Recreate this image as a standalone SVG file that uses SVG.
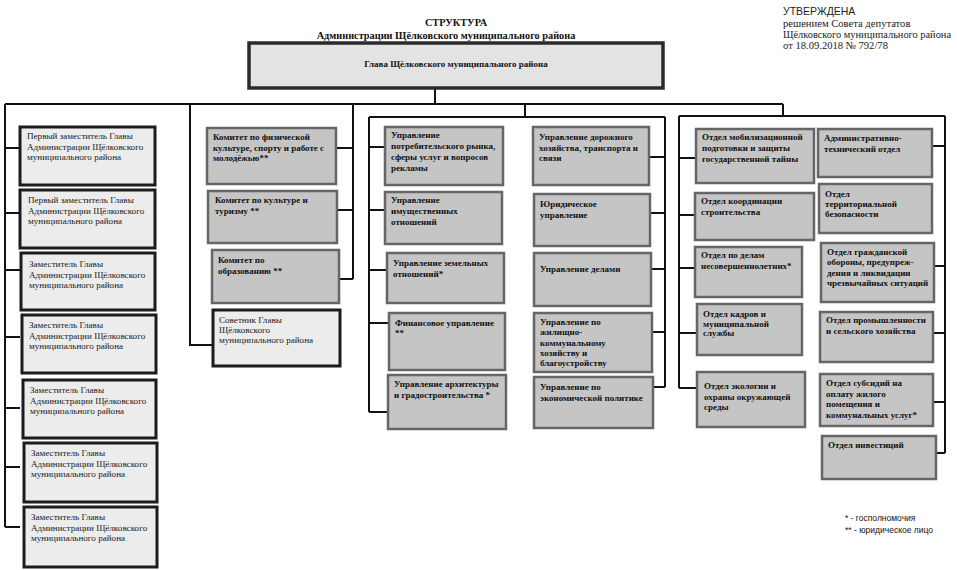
<svg xmlns="http://www.w3.org/2000/svg" width="957" height="570" viewBox="0 0 957 570">
<style>
.bg{fill:#ffffff}
.lb{fill:#ececec;stroke:#1c1c1c;stroke-width:3}
.gb{fill:#c5c5c5;stroke:#666666;stroke-width:2.5}
.mb{fill:#e3e3e3;stroke:#2a2a2a;stroke-width:3.5}
.t{font-family:"Liberation Serif","Times New Roman",serif;font-size:9.1px;fill:#1a1a1a}
.tb{font-family:"Liberation Serif","Times New Roman",serif;font-size:9px;font-weight:bold;fill:#111}
.hd{font-family:"Liberation Serif","Times New Roman",serif;font-size:10.3px;font-weight:bold;fill:#111}
.ap{font-family:"Liberation Serif","Times New Roman",serif;font-size:10.6px;fill:#222}
.ap1{font-family:"Liberation Sans",Arial,sans-serif;font-size:10.5px;fill:#222}
.lg{font-family:"Liberation Sans",Arial,sans-serif;font-size:8.5px;fill:#111}
.c{fill:none;stroke:#111;stroke-width:2}
</style>
<rect class="bg" x="0" y="0" width="957" height="570"/>

<g id="header">
<text class="hd" x="456" y="26" text-anchor="middle">СТРУКТУРА</text>
<text class="hd" x="446" y="39" text-anchor="middle">Администрации Щёлковского муниципального района</text>
</g>
<g id="approval">
<text class="ap1" x="783" y="15">УТВЕРЖДЕНА</text>
<text class="ap" x="783" y="27">решением Совета депутатов</text>
<text class="ap" x="783" y="38" textLength="168" lengthAdjust="spacingAndGlyphs">Щёлковского муниципального  района</text>
<text class="ap" x="783" y="49">от 18.09.2018 № 792/78</text>
</g>

<g id="connectors">
<path class="c" d="M435 88V104M5 104H783M5 104V527M5 148H20M5 213H20M5 270H20M5 337H20M5 408H20M5 467H20M5 527H20"/>
<path class="c" d="M190 104V345H213M353 104V279M336 148H353M337 210H353M339 279H353"/>
<path class="c" d="M525 104V117M369 117H665M369 117V412M369 147H385M369 210H385M369 270H387M369 323H389M369 412H388M665 117V387M649 157H665M650 213H665M651 269H665M652 332H665M653 387H665"/>
<path class="c" d="M783 104V116M679 116H945M679 116V388M679 158H696M679 215H695M679 268H695M679 333H697M679 388H697M945 116V453M932 146H945M934 266H945M933 333H945M933 402H945M936 453H945"/>
</g>

<g id="head">
<rect class="mb" x="249" y="43" width="414" height="45"/>
<text class="tb" x="456" y="67" text-anchor="middle">Глава Щёлковского муниципального района</text>
</g>

<g id="dep1"><rect class="lb" x="20" y="127" width="135" height="58"/>
<text class="t" x="27" y="139">Первый заместитель Главы</text><text class="t" x="27" y="149.5">Администрации Щёлковского</text><text class="t" x="27" y="160">муниципального района</text></g>
<g id="dep2"><rect class="lb" x="20" y="190" width="135" height="58"/>
<text class="t" x="28" y="203">Первый заместитель Главы</text><text class="t" x="28" y="213.5">Администрации Щёлковского</text><text class="t" x="28" y="224">муниципального района</text></g>
<g id="dep3"><rect class="lb" x="21" y="253" width="134" height="57"/>
<text class="t" x="29" y="267">Заместитель Главы</text><text class="t" x="29" y="277.5">Администрации Щёлковского</text><text class="t" x="29" y="288">муниципального района</text></g>
<g id="dep4"><rect class="lb" x="22" y="315" width="134" height="58"/>
<text class="t" x="29" y="328">Заместитель Главы</text><text class="t" x="29" y="338.5">Администрации Щёлковского</text><text class="t" x="29" y="349">муниципального района</text></g>
<g id="dep5"><rect class="lb" x="23" y="380" width="133" height="58"/>
<text class="t" x="30" y="393">Заместитель Главы</text><text class="t" x="30" y="403.5">Администрации Щёлковского</text><text class="t" x="30" y="414">муниципального района</text></g>
<g id="dep6"><rect class="lb" x="24" y="443" width="133" height="59"/>
<text class="t" x="31" y="456">Заместитель Главы</text><text class="t" x="31" y="466.5">Администрации Щёлковского</text><text class="t" x="31" y="477">муниципального района</text></g>
<g id="dep7"><rect class="lb" x="24" y="507" width="133" height="60"/>
<text class="t" x="31" y="520">Заместитель Главы</text><text class="t" x="31" y="530.5">Администрации Щёлковского</text><text class="t" x="31" y="541">муниципального района</text></g>

<g id="kom1"><rect class="gb" x="207" y="128" width="129" height="56"/>
<text class="tb" x="213" y="140">Комитет  по физической</text><text class="tb" x="213" y="150.5">культуре,  спорту и работе с</text><text class="tb" x="213" y="161">молодёжью**</text></g>
<g id="kom2"><rect class="gb" x="208" y="191" width="129" height="52"/>
<text class="tb" x="215" y="203">Комитет по культуре и</text><text class="tb" x="215" y="214">туризму **</text></g>
<g id="kom3"><rect class="gb" x="212" y="250" width="127" height="53"/>
<text class="tb" x="218" y="263">Комитет по</text><text class="tb" x="218" y="273.5">образованию **</text></g>
<g id="sovetnik"><rect class="lb" x="213" y="310" width="127" height="56"/>
<text class="t" x="219" y="323">Советник Главы</text><text class="t" x="219" y="333">Щёлковского</text><text class="t" x="219" y="343">муниципального района</text></g>

<g id="upr1"><rect class="gb" x="385" y="127" width="118" height="58"/>
<text class="tb" x="391" y="138">Управление</text><text class="tb" x="391" y="149">потребительского рынка,</text><text class="tb" x="391" y="160">сферы услуг и вопросов</text><text class="tb" x="391" y="171">рекламы</text></g>
<g id="upr2"><rect class="gb" x="385" y="192" width="117" height="52"/>
<text class="tb" x="391" y="203">Управление</text><text class="tb" x="391" y="214">имущественных</text><text class="tb" x="391" y="225">отношений</text></g>
<g id="upr3"><rect class="gb" x="387" y="253" width="117" height="50"/>
<text class="tb" x="393" y="266">Управление  земельных</text><text class="tb" x="393" y="276.5">отношений*</text></g>
<g id="upr4"><rect class="gb" x="389" y="313" width="116" height="57"/>
<text class="tb" x="395" y="326">Финансовое управление</text><text class="tb" x="395" y="336">**</text></g>
<g id="upr5"><rect class="gb" x="388" y="375" width="118" height="54"/>
<text class="tb" x="394" y="387">Управление архитектуры</text><text class="tb" x="394" y="397.5">и градостроительства *</text></g>

<g id="upr6"><rect class="gb" x="533" y="127" width="116" height="58"/>
<text class="tb" x="539" y="140">Управление дорожного</text><text class="tb" x="539" y="150.5">хозяйства, транспорта и</text><text class="tb" x="539" y="161">связи</text></g>
<g id="upr7"><rect class="gb" x="534" y="194" width="116" height="52"/>
<text class="tb" x="540" y="207">Юридическое</text><text class="tb" x="540" y="217.5">управление</text></g>
<g id="upr8"><rect class="gb" x="534" y="253" width="117" height="53"/>
<text class="tb" x="540" y="272">Управление делами</text></g>
<g id="upr9"><rect class="gb" x="534" y="313" width="118" height="59"/>
<text class="tb" x="540" y="325">Управление по</text><text class="tb" x="540" y="335.3">жилищно-</text><text class="tb" x="540" y="345.6">коммунальному</text><text class="tb" x="540" y="355.9">хозяйству и</text><text class="tb" x="540" y="366.2">благоустройству</text></g>
<g id="upr10"><rect class="gb" x="534" y="377" width="119" height="51"/>
<text class="tb" x="540" y="390">Управление по</text><text class="tb" x="540" y="400.5">экономической политике</text></g>

<g id="otd1"><rect class="gb" x="696" y="129" width="118" height="54"/>
<text class="tb" x="702" y="140">Отдел мобилизационной</text><text class="tb" x="702" y="151">подготовки и защиты</text><text class="tb" x="702" y="162">государственной тайны</text></g>
<g id="otd2"><rect class="gb" x="695" y="193" width="119" height="47"/>
<text class="tb" x="701" y="204">Отдел координации</text><text class="tb" x="701" y="215">строительства</text></g>
<g id="otd3"><rect class="gb" x="695" y="247" width="107" height="50"/>
<text class="tb" x="701" y="258">Отдел по делам</text><text class="tb" x="701" y="268.5">несовершеннолетних*</text></g>
<g id="otd4"><rect class="gb" x="697" y="304" width="105" height="51"/>
<text class="tb" x="703" y="317">Отдел кадров и</text><text class="tb" x="703" y="326.5">муниципальной</text><text class="tb" x="703" y="336">службы</text></g>
<g id="otd5"><rect class="gb" x="697" y="372" width="108" height="55"/>
<text class="tb" x="704" y="389">Отдел экологии и</text><text class="tb" x="704" y="399.5">охраны окружающей</text><text class="tb" x="704" y="410">среды</text></g>

<g id="otd6"><rect class="gb" x="818" y="129" width="114" height="48"/>
<text class="tb" x="824" y="141">Административно-</text><text class="tb" x="824" y="152">технический отдел</text></g>
<g id="otd7"><rect class="gb" x="819" y="184" width="113" height="49"/>
<text class="tb" x="825" y="197">Отдел</text><text class="tb" x="825" y="207">территориальной</text><text class="tb" x="825" y="217">безопасности</text></g>
<g id="otd8"><rect class="gb" x="821" y="243" width="113" height="59"/>
<text class="tb" x="827" y="255">Отдел гражданской</text><text class="tb" x="827" y="265.3">обороны, предупреж-</text><text class="tb" x="827" y="275.6">дения и ликвидации</text><text class="tb" x="827" y="286">чрезвычайных ситуаций</text></g>
<g id="otd9"><rect class="gb" x="820" y="312" width="113" height="50"/>
<text class="tb" x="826" y="323">Отдел промышленности</text><text class="tb" x="826" y="334">и сельского хозяйства</text></g>
<g id="otd10"><rect class="gb" x="820" y="374" width="113" height="52"/>
<text class="tb" x="826" y="386">Отдел субсидий на</text><text class="tb" x="826" y="396.5">оплату жилого</text><text class="tb" x="826" y="407">помещения и</text><text class="tb" x="826" y="417.5">коммунальных услуг*</text></g>
<g id="otd11"><rect class="gb" x="822" y="436" width="114" height="43"/>
<text class="tb" x="828" y="448">Отдел инвестиций</text></g>

<g id="legend">
<text class="lg" x="845" y="521">* - госполномочия</text>
<text class="lg" x="845" y="533">** - юридическое лицо</text>
</g>
</svg>
